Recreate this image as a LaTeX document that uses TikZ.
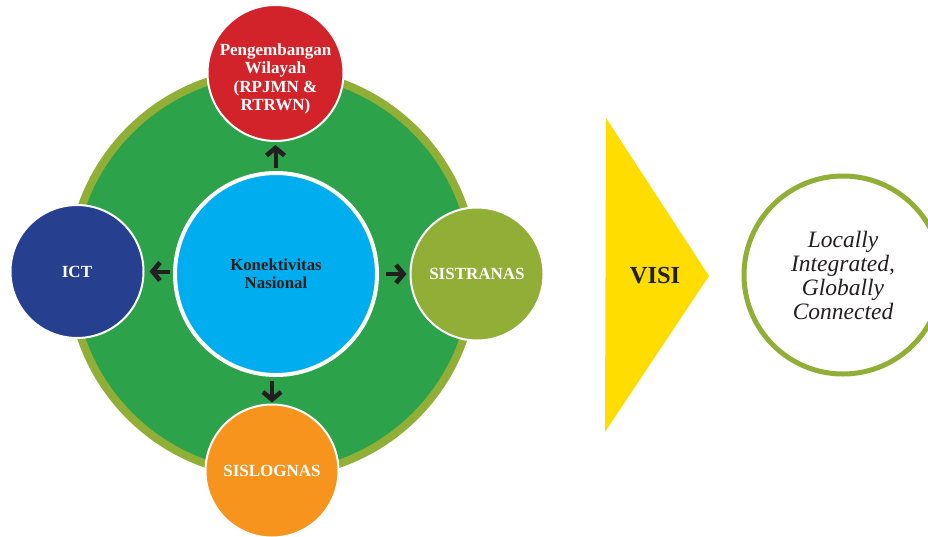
\documentclass[tikz,border=0pt]{standalone}
\usepackage{fontspec}
\setmainfont{Liberation Serif}
\usetikzlibrary{arrows.meta}
\definecolor{olive}{HTML}{91AF36}
\definecolor{ringgreen}{HTML}{2CA34A}
\definecolor{coreblue}{HTML}{00AEEF}
\definecolor{redc}{HTML}{D2232A}
\definecolor{navy}{HTML}{273F8F}
\definecolor{orangec}{HTML}{F7941E}
\definecolor{yellowc}{HTML}{FFDD00}
\definecolor{inkc}{HTML}{231F20}
\tikzset{
  sat/.style={circle, inner sep=0pt, minimum size=133pt, draw=white, line width=2pt,
              text=white, font=\bfseries\fontsize{17}{18.3}\selectfont, align=center},
  arr/.style={draw=inkc, line width=4pt, -{Straight Barb[length=7.5pt,width=18pt,line width=4.6pt]}},
}
\begin{document}
\begin{tikzpicture}[x=1pt,y=-1pt]
\clip (0,0) rectangle (928,536);
\fill[white] (0,0) rectangle (928,536);
% big ring
\node[circle, inner sep=0pt, minimum size=404pt, fill=ringgreen, draw=olive, line width=8pt] (ring) at (272.5,273) {};
% core
\node[circle, inner sep=0pt, minimum size=202pt, fill=coreblue, draw=white, line width=4pt,
      text=inkc, font=\bfseries\fontsize{16.8}{17.7}\selectfont, align=center] (core) at (276,274) {Konektivitas\\Nasional};
% satellites
\node[sat, fill=redc, minimum size=136pt] (wil) at (275.5,73) {\raisebox{-6pt}[\height][\depth]{\shortstack{Pengembangan\\Wilayah\\(RPJMN \&\\RTRWN)}}};
\node[sat, fill=navy] (ict) at (77,271.5) {ICT};
\node[sat, fill=olive] (sis) at (477,274) {SISTRANAS};
\node[sat, fill=orangec] (slog) at (272,471) {SISLOGNAS};
% arrows
\draw[arr, shorten <=3pt, shorten >=3pt] (wil.south |- core.north) -- (wil.south);
\draw[arr, shorten <=3pt, shorten >=5pt] (ict.east -| core.west) -- (ict.east);
\draw[arr, shorten <=7pt, shorten >=3pt] (sis.west -| core.east) -- (sis.west);
\draw[arr, shorten <=4pt, shorten >=1pt] (slog.north |- core.south) -- (slog.north);
% VISI chevron
\fill[yellowc] (606,118) -- (709,276) -- (605,432) -- cycle;
\node[text=inkc, font=\bfseries\fontsize{24.5}{26}\selectfont] (visi) at (655,276) {VISI};
% vision circle
\node[circle, inner sep=0pt, minimum size=198pt, draw=olive, line width=5pt,
      text=inkc, font=\itshape\fontsize{23.5}{24}\selectfont, align=center] (vision) at (843,275) {Locally\\Integrated,\\Globally\\Connected};
\end{tikzpicture}
\end{document}
